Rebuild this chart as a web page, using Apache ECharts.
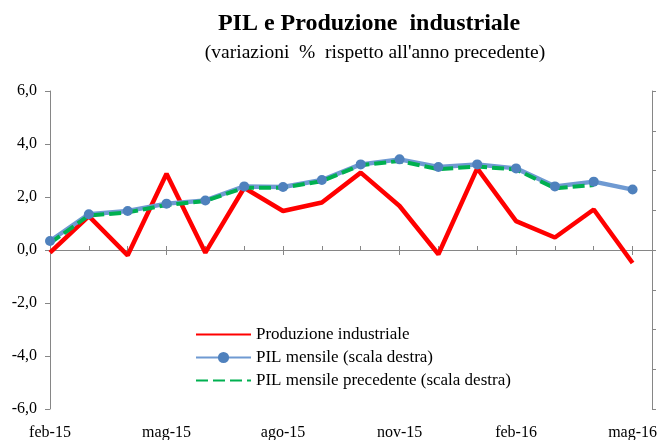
<!DOCTYPE html>
<html>
<head>
<meta charset="utf-8">
<script src="https://cdn.jsdelivr.net/npm/echarts@6/dist/echarts.min.js"></script>
<style>html,body{margin:0;padding:0;background:#fff}#c{width:661px;height:440px}</style>
</head>
<body>
<div id="c"></div>
<script>
const categories = ['feb-15','mar-15','apr-15','mag-15','giu-15','lug-15','ago-15','set-15','ott-15','nov-15','dic-15','gen-16','feb-16','mar-16','apr-16','mag-16'];
const produzione = [-0.1, 1.28, -0.2, 2.88, -0.1, 2.35, 1.47, 1.79, 2.92, 1.66, -0.16, 3.08, 1.09, 0.47, 1.53, -0.49];
const pilMensile = [0.34, 1.35, 1.47, 1.75, 1.87, 2.4, 2.38, 2.64, 3.23, 3.42, 3.13, 3.23, 3.08, 2.4, 2.58, 2.28];
const pilPrecedente = [0.26, 1.3, 1.42, 1.7, 1.85, 2.35, 2.35, 2.6, 3.2, 3.36, 3.05, 3.15, 3.04, 2.33, 2.45, null];
const leftTicks = {min: -6, max: 6, interval: 2};
const rightTicks = {min: -6, max: 6, interval: 1.5};
const labelEvery = 3;

const serif = "'Liberation Serif', 'DejaVu Serif', serif";
const axisGray = '#868686';
const toPairs = arr => arr.map((v, i) => [i, v]);
const xMax = categories.length - 0.5;
const gridBox = {left: 50, right: 9, top: 91, bottom: 31, containLabel: false, outerBoundsMode: 'none'};
const chart = echarts.init(document.getElementById('c'), null, {renderer: 'canvas'});
chart.setOption({
  backgroundColor: '#ffffff',
  animation: false,
  title: [
    {text: 'PIL e Produzione  industriale', left: 364, top: 7, textAlign: 'center',
     textStyle: {fontFamily: serif, fontSize: 24, fontWeight: 'bold', color: '#000'}},
    {text: "(variazioni  %  rispetto all'anno precedente)", left: 370, top: 38, textAlign: 'center',
     textStyle: {fontFamily: serif, fontSize: 19.5, fontWeight: 'normal', color: '#000'}}
  ],
  legend: {
    orient: 'vertical', left: 190, top: 321,
    itemWidth: 55, itemHeight: 14, itemGap: 6,
    textStyle: {fontFamily: serif, fontSize: 17, color: '#000'},
    data: [
      {name: 'Produzione industriale', itemStyle: {opacity: 0}},
      {name: 'PIL mensile (scala destra)'},
      {name: 'PIL mensile precedente (scala destra)', itemStyle: {opacity: 0}}
    ]
  },
  grid: [Object.assign({}, gridBox), Object.assign({}, gridBox)],
  xAxis: [
    {type: 'value', gridIndex: 0, min: 0, max: xMax, interval: 1, position: 'top',
     axisLine: {show: true, onZero: true, onZeroAxisIndex: 0, lineStyle: {color: axisGray, width: 1}},
     axisTick: {show: true, length: 4, lineStyle: {color: axisGray}},
     axisLabel: {show: false}, splitLine: {show: false}},
    {type: 'value', gridIndex: 0, min: 0, max: xMax, interval: labelEvery, position: 'bottom',
     axisLine: {show: true, onZero: true, onZeroAxisIndex: 1, lineStyle: {color: axisGray, width: 1}},
     axisTick: {show: true, length: 5, lineStyle: {color: axisGray}},
     axisLabel: {show: false}, splitLine: {show: false}},
    {type: 'value', gridIndex: 1, min: 0, max: xMax, interval: labelEvery, position: 'bottom',
     axisLine: {show: false, onZero: false}, axisTick: {show: false},
     axisLabel: {show: true, margin: 16, fontFamily: serif, fontSize: 16, color: '#000',
       showMinLabel: true, showMaxLabel: true, hideOverlap: false,
       formatter: v => (Number.isInteger(v) && categories[v]) ? categories[v] : ''},
     splitLine: {show: false}}
  ],
  yAxis: [
    {type: 'value', gridIndex: 0, position: 'left', min: leftTicks.min, max: leftTicks.max, interval: leftTicks.interval,
     axisLine: {show: true, onZero: false, lineStyle: {color: axisGray}},
     axisTick: {show: true, length: 5, lineStyle: {color: axisGray}},
     axisLabel: {margin: 13, fontFamily: serif, fontSize: 16, color: '#000',
       formatter: v => v.toFixed(1).replace('.', ',')},
     splitLine: {show: false}},
    {type: 'value', gridIndex: 0, position: 'right', min: rightTicks.min, max: rightTicks.max, interval: rightTicks.interval,
     axisLine: {show: true, onZero: false, lineStyle: {color: axisGray}},
     axisTick: {show: true, length: 4, lineStyle: {color: axisGray}},
     axisLabel: {show: false}, splitLine: {show: false}},
    {type: 'value', gridIndex: 1, min: leftTicks.min, max: leftTicks.max, show: false}
  ],
  series: [
    {name: 'Produzione industriale', type: 'line', data: toPairs(produzione), xAxisIndex: 0, yAxisIndex: 0,
     symbol: 'none', lineStyle: {color: '#ff0000', width: 4.5}, itemStyle: {color: '#ff0000'}},
    {name: 'PIL mensile (scala destra)', type: 'line', data: toPairs(pilMensile), xAxisIndex: 0, yAxisIndex: 1,
     symbol: 'circle', symbolSize: 10, showSymbol: true,
     lineStyle: {color: '#6f9ad2', width: 4.5}, itemStyle: {color: '#4f81bd'}},
    {name: 'PIL mensile precedente (scala destra)', type: 'line', data: toPairs(pilPrecedente), xAxisIndex: 0, yAxisIndex: 1,
     symbol: 'none', lineStyle: {color: '#00b050', width: 4, type: [12, 5]}, itemStyle: {color: '#00b050'}}
  ]
});
</script>
</body>
</html>
